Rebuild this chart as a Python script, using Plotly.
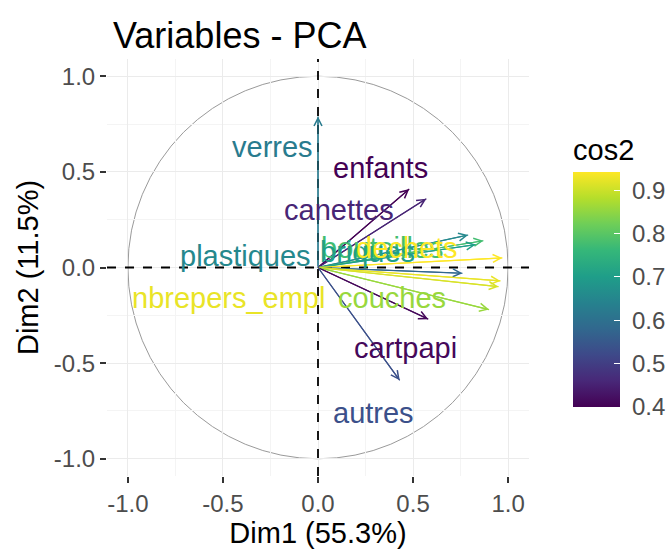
import plotly.graph_objects as go
from plotly.colors import sample_colorscale

# ---- data ----
variables = ["verres", "enfants", "canettes", "plastiques", "bouteilles", "briques",
             "dechets", "journaux", "nbrepers_empl", "menages", "couches", "cartpapi", "autres"]
dim1 = [0.00, 0.48, 0.57, 0.79, 0.87, 0.83, 0.97, 0.76, 0.96, 0.95, 0.90, 0.58, 0.43]
dim2 = [0.79, 0.41, 0.36, 0.17, 0.14, 0.12, 0.05, -0.03, -0.07, -0.10, -0.22, -0.27, -0.59]
label_x = [-0.24, 0.33, 0.11, -0.38, 0.34, 0.26, 0.47, None, -0.47, None, 0.39, 0.46, 0.29]
label_y = [0.63, 0.52, 0.30, 0.06, 0.10, 0.08, 0.10, None, -0.16, None, -0.16, -0.42, -0.76]
cos2 = [x * x + y * y for x, y in zip(dim1, dim2)]

x_ticks = [-1.0, -0.5, 0.0, 0.5, 1.0]
cb_ticks = [0.4, 0.5, 0.6, 0.7, 0.8, 0.9]

FONT = "Liberation Sans, Arial, sans-serif"
cmin, cmax = min(cos2), max(cos2)
cols = sample_colorscale("Viridis", [(c - cmin) / (cmax - cmin) for c in cos2])

fig = go.Figure()

# arrow shafts
for x, y, c in zip(dim1, dim2, cols):
    fig.add_trace(go.Scatter(x=[0, x], y=[0, y], mode="lines",
                             line=dict(color=c, width=1.2), hoverinfo="skip",
                             showlegend=False))

# colour bar carrier
fig.add_trace(go.Scatter(
    x=dim1, y=dim2, mode="markers", showlegend=False, hoverinfo="skip",
    marker=dict(size=0.1, opacity=0, color=cos2, colorscale="Viridis",
                cmin=cmin, cmax=cmax, showscale=True,
                colorbar=dict(
                    title=dict(text="cos2", side="top",
                               font=dict(family=FONT, size=29, color="#000")),
                    thickness=47, len=272, lenmode="pixels",
                    x=(573 - 107) / 422, xanchor="left", xref="paper", xpad=0,
                    y=(476 - 407) / 417, yanchor="bottom", ypad=0,
                    tickvals=cb_ticks,
                    ticktext=["\u00a0" + str(t) for t in cb_ticks],
                    ticks="inside", ticklen=6, tickcolor="white",
                    tickfont=dict(family=FONT, size=24, color="#4d4d4d"),
                    outlinewidth=0))))

annotations = []
# arrow heads
for x, y, c in zip(dim1, dim2, cols):
    annotations.append(dict(x=x, y=y, ax=0, ay=0, xref="x", yref="y",
                            axref="x", ayref="y", showarrow=True, arrowhead=5,
                            arrowsize=1.3, arrowwidth=1.2, arrowcolor=c, text=""))
# labels (some labels were dropped by the repel step in the reference)
for name, lx, ly, c in zip(variables, label_x, label_y, cols):
    if lx is None:
        continue
    annotations.append(dict(x=lx, y=ly, xref="x", yref="y", text=name,
                            showarrow=False,
                            font=dict(family=FONT, size=29, color=c)))

fig.update_layout(
    template="none",
    width=670, height=556,
    margin=dict(l=107, r=141, t=59, b=80, autoexpand=False),
    paper_bgcolor="white", plot_bgcolor="white",
    title=dict(text="Variables - PCA", x=113 / 670, xanchor="left",
               y=1 - 35 / 556, yanchor="middle", yref="container",
               font=dict(family=FONT, size=36, color="#000")),
    annotations=annotations,
    shapes=[
        dict(type="circle", xref="x", yref="y", x0=-1, y0=-1, x1=1, y1=1,
             line=dict(color="#9a9a9a", width=1), layer="below"),
        dict(type="line", xref="x", yref="y", x0=-1.11, x1=1.11, y0=0, y1=0,
             line=dict(color="black", width=1.8, dash="dash")),
        dict(type="line", xref="x", yref="y", x0=0, x1=0, y0=-1.09, y1=1.09,
             line=dict(color="black", width=1.8, dash="dash")),
    ],
)

axis_common = dict(
    automargin=False,
    showgrid=True, gridcolor="#ebebeb", gridwidth=1,
    minor=dict(dtick=0.25, showgrid=True, gridcolor="#f4f4f4", gridwidth=1),
    zeroline=False, showline=False,
    ticks="outside", ticklen=6, tickcolor="#333", tickwidth=1.5,
    tickfont=dict(family=FONT, size=24, color="#4d4d4d"),
    tickvals=x_ticks, ticktext=["%.1f" % t for t in x_ticks],
)
fig.update_xaxes(range=[-1.11, 1.11], **axis_common,
                 title=dict(text="Dim1 (55.3%)", standoff=6,
                            font=dict(family=FONT, size=29, color="#000")))
fig.update_yaxes(range=[-1.09, 1.09], **axis_common,
                 title=dict(text="Dim2 (11.5%)", standoff=6,
                            font=dict(family=FONT, size=29, color="#000")))

fig.write_html("out.html",
               config={"displayModeBar": False},
               post_script="document.body.style.margin='0px';"
                           "document.body.style.padding='0px';")
